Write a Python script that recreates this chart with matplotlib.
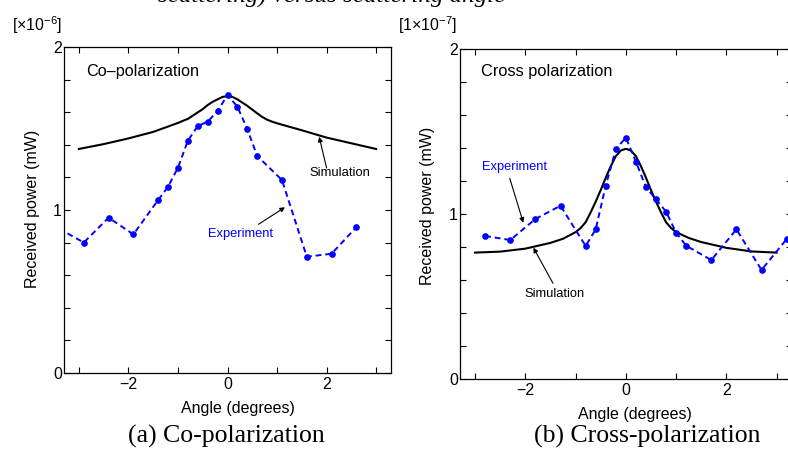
import matplotlib
matplotlib.use("Agg")
import matplotlib.pyplot as plt
import numpy as np

plt.rcParams['font.family'] = ['Liberation Sans', 'DejaVu Sans']
plt.rcParams['mathtext.default'] = 'regular'

# ---------------- data ----------------
# (a) Co-polarization, values in units of 1e-6 mW
co_exp_angle = [-3.4, -2.9, -2.4, -1.9, -1.4, -1.2, -1.0, -0.8, -0.6, -0.4, -0.2,
                0.0, 0.2, 0.4, 0.6, 1.1, 1.6, 2.1, 2.6]
co_exp_power = [0.885, 0.80, 0.953, 0.85, 1.061, 1.143, 1.26, 1.426, 1.516, 1.543, 1.608,
                1.707, 1.635, 1.496, 1.332, 1.184, 0.713, 0.731, 0.894]
co_sim_angle = [-3.0, -2.5, -2.0, -1.5, -1.0, -0.9, -0.8, -0.7, -0.6, -0.5, -0.4, -0.3,
                -0.2, -0.1, 0.0, 0.1, 0.2, 0.3, 0.4, 0.5, 0.6, 0.7, 0.8, 0.9, 1.0,
                1.5, 2.0, 2.5, 3.0]
co_sim_power = [1.375, 1.405, 1.44, 1.48, 1.535, 1.548, 1.56, 1.58, 1.60, 1.62, 1.645,
                1.665, 1.68, 1.695, 1.70, 1.695, 1.68, 1.66, 1.64, 1.617, 1.594, 1.572,
                1.555, 1.543, 1.533, 1.49, 1.445, 1.41, 1.375]

# (b) Cross-polarization, values in units of 1e-7 mW
cx_exp_angle = [-2.8, -2.3, -1.8, -1.3, -0.8, -0.6, -0.4, -0.2, 0.0, 0.2, 0.4, 0.6, 0.8,
                1.0, 1.2, 1.7, 2.2, 2.7, 3.2]
cx_exp_power = [0.867, 0.842, 0.97, 1.05, 0.806, 0.907, 1.172, 1.392, 1.463, 1.317, 1.162,
                1.089, 1.014, 0.887, 0.808, 0.721, 0.907, 0.661, 0.848]
cx_sim_angle = [-3.0, -2.5, -2.0, -1.5, -1.25, -1.0, -0.9, -0.8, -0.7, -0.6, -0.5, -0.4,
                -0.3, -0.2, -0.1, 0.0, 0.1, 0.2, 0.3, 0.4, 0.5, 0.6, 0.7, 0.8, 0.9, 1.0,
                1.25, 1.5, 2.0, 2.5, 3.0]
cx_sim_power = [0.766, 0.772, 0.79, 0.825, 0.85, 0.89, 0.915, 0.95, 1.01, 1.075, 1.145,
                1.22, 1.29, 1.35, 1.385, 1.395, 1.385, 1.35, 1.29, 1.22, 1.145, 1.075,
                1.01, 0.95, 0.915, 0.89, 0.855, 0.83, 0.795, 0.773, 0.766]

x_ticks = [-3, -2, -1, 0, 1, 2, 3]
x_ticklabels = ['', '\u22122', '', '0', '', '2', '']
y_ticks = [0, 0.2, 0.4, 0.6, 0.8, 1.0, 1.2, 1.4, 1.6, 1.8, 2.0]
y_ticklabels = ['0', '', '', '', '', '1', '', '', '', '', '2']

W, H = 788, 451
fig = plt.figure(figsize=(W / 100, H / 100), dpi=100)

def fx(px):
    return px / W

def fy(py):
    return 1 - py / H

ax1 = fig.add_axes([fx(64), fy(372.7), fx(391) - fx(64), fy(47.3) - fy(372.7)])
ax2 = fig.add_axes([fx(460), fy(379), fx(791.7) - fx(460), fy(49) - fy(379)])

blue = '#0000ff'

def style(ax):
    ax.set_xlim(-3.3, 3.3)
    ax.set_ylim(0, 2)
    ax.set_xticks(x_ticks)
    ax.set_xticklabels(x_ticklabels)
    ax.set_yticks(y_ticks)
    ax.set_yticklabels(y_ticklabels)
    ax.tick_params(direction='in', top=True, right=True, length=4, width=0.8,
                   labelsize=11.5, colors='k')
    ax.tick_params(axis='x', pad=3)
    ax.tick_params(axis='y', pad=1.5)
    for s in ax.spines.values():
        s.set_linewidth(0.9)
    ax.set_facecolor('white')

for ax in (ax1, ax2):
    style(ax)

arrow_kw = dict(arrowstyle='-|>', color='k', lw=0.8, mutation_scale=7,
                shrinkA=0, shrinkB=0)

# (a)
ax1.plot(co_sim_angle, co_sim_power, color='k', lw=1.5, zorder=2)
ax1.plot(co_exp_angle, co_exp_power, color=blue, lw=1.4, ls=(0, (3, 2)),
         marker='o', ms=3.8, zorder=3)
ax1.text(-2.85, 1.854, 'Co\u2013polarization', fontsize=11.7, va='center', ha='left')
ax1.text(2.27, 1.226, 'Simulation', fontsize=9.4, va='center', ha='center')
ax1.annotate('', xy=(1.85, 1.45), xytext=(2.0, 1.258), arrowprops=arrow_kw)
ax1.text(0.26, 0.851, 'Experiment', fontsize=9.3, va='center', ha='center', color=blue)
ax1.annotate('', xy=(1.16, 1.017), xytext=(0.625, 0.912), arrowprops=arrow_kw)

# (b)
ax2.plot(cx_sim_angle, cx_sim_power, color='k', lw=1.5, zorder=2)
ax2.plot(cx_exp_angle, cx_exp_power, color=blue, lw=1.4, ls=(0, (3, 2)),
         marker='o', ms=3.8, zorder=3)
ax2.text(-2.88, 1.862, 'Cross polarization', fontsize=11.8, va='center', ha='left')
ax2.text(-2.22, 1.287, 'Experiment', fontsize=9.3, va='center', ha='center', color=blue)
ax2.annotate('', xy=(-2.04, 0.947), xytext=(-2.31, 1.216), arrowprops=arrow_kw)
ax2.text(-1.42, 0.513, 'Simulation', fontsize=9.3, va='center', ha='center')
ax2.annotate('', xy=(-1.84, 0.796), xytext=(-1.45, 0.58), arrowprops=arrow_kw)

# axis labels
fig.text(fx(237.5), fy(409), 'Angle (degrees)', fontsize=11.5, ha='center', va='center')
fig.text(fx(635), fy(414), 'Angle (degrees)', fontsize=11.5, ha='center', va='center')
fig.text(fx(33), fy(208.5), 'Received power (mW)', fontsize=11.5, ha='center', va='center',
         rotation=90)
fig.text(fx(428), fy(205.5), 'Received power (mW)', fontsize=11.5, ha='center', va='center',
         rotation=90)

# scale factors
fig.text(fx(12), fy(25), r'[$\times$10$^{-6}$]', fontsize=11.5, ha='left', va='center')
fig.text(fx(398), fy(25), r'[1$\times$10$^{-7}$]', fontsize=11.5, ha='left', va='center')

# captions
fig.text(fx(226), fy(436), '(a) Co-polarization', fontsize=18.5, ha='center', va='center',
         family='Liberation Serif')
fig.text(fx(647.5), fy(436), '(b) Cross-polarization', fontsize=18.5, ha='center',
         va='center', family='Liberation Serif')

# partially visible text at the top edge
fig.text(fx(332), fy(2.2), 'scattering) versus scattering angle', fontsize=18,
         ha='center', va='baseline', family='Liberation Serif', style='italic')

fig.savefig('out.png', dpi=100, facecolor='white')
